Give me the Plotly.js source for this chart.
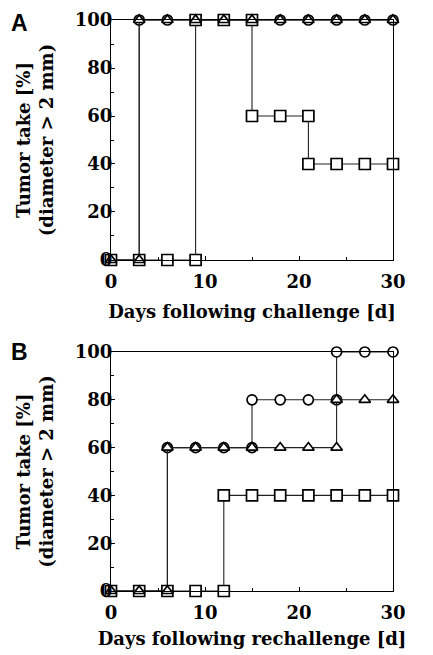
<!DOCTYPE html>
<html>
<head>
<meta charset="utf-8">
<script src="https://cdn.plot.ly/plotly-3.0.1.min.js"></script>
<style>html,body{margin:0;padding:0;background:#fff;}#chart{width:433px;height:655px;}</style>
</head>
<body>
<div id="chart"></div>
<script>
// Panel A: challenge
const daysA_circle = [0, 3, 3, 6, 9, 12, 15, 18, 21, 24, 27, 30];
const takeA_circle = [0, 0, 100, 100, 100, 100, 100, 100, 100, 100, 100, 100];
const daysA_square = [0, 3, 6, 9, 9, 12, 15, 15, 18, 21, 21, 24, 27, 30];
const takeA_square = [0, 0, 0, 0, 100, 100, 100, 60, 60, 60, 40, 40, 40, 40];
const daysA_triangle = [0, 3, 3, 6, 9, 12, 15, 18, 21, 24, 27, 30];
const takeA_triangle = [0, 0, 100, 100, 100, 100, 100, 100, 100, 100, 100, 100];

// Panel B: rechallenge
const daysB_circle = [0, 3, 6, 6, 9, 12, 15, 15, 18, 21, 24, 24, 27, 30];
const takeB_circle = [0, 0, 0, 60, 60, 60, 60, 80, 80, 80, 80, 100, 100, 100];
const daysB_square = [0, 3, 6, 9, 12, 12, 15, 18, 21, 24, 27, 30];
const takeB_square = [0, 0, 0, 0, 0, 40, 40, 40, 40, 40, 40, 40];
const daysB_triangle = [0, 3, 6, 6, 9, 12, 15, 18, 21, 24, 24, 27, 30];
const takeB_triangle = [0, 0, 0, 60, 60, 60, 60, 60, 60, 60, 80, 80, 80];

const xTickVals = [0, 10, 20, 30];
const xTickText = ['0', '10', '20', '30'];
const yTickVals = [0, 20, 40, 60, 80, 100];
const yTickText = ['0', '20', '40', '60', '80', '100'];
const panelLabels = ['A', 'B'];
const xTitles = ['Days following challenge [d]', 'Days following rechallenge [d]'];
const yTitle = 'Tumor take [%]<br>(diameter > 2 mm)';

const serif = {family: 'DejaVu Serif', size: 18, color: '#000', weight: 'bold'};

function tr(x, y, sym, size, xa, ya) {
  return {
    x: x, y: y, xaxis: xa, yaxis: ya, type: 'scatter', mode: 'lines+markers',
    cliponaxis: false, showlegend: false, hoverinfo: 'skip',
    line: {color: '#222', width: 1.1},
    marker: {symbol: sym, size: size, color: '#fff', line: {color: '#000', width: 1.7}}
  };
}

const data = [
  tr(daysA_circle, takeA_circle, 'circle', 10, 'x', 'y'),
  tr(daysA_square, takeA_square, 'square', 11, 'x', 'y'),
  tr(daysA_triangle, takeA_triangle, 'triangle-up', 10, 'x', 'y'),
  tr(daysB_circle, takeB_circle, 'circle', 10, 'x2', 'y2'),
  tr(daysB_square, takeB_square, 'square', 11, 'x2', 'y2'),
  tr(daysB_triangle, takeB_triangle, 'triangle-up', 10, 'x2', 'y2')
];

function xax(anchor, title, so) {
  return {
    anchor: anchor, domain: [0, 1], range: [0, 30], showgrid: false, zeroline: false,
    showline: true, mirror: true, linecolor: '#000', linewidth: 1,
    ticks: 'inside', ticklen: 4, tickcolor: '#000', tickwidth: 1,
    tickvals: xTickVals, ticktext: xTickText, tickfont: serif, ticklabelstandoff: 5,
    minor: {dtick: 5, ticks: 'inside', ticklen: 3, tickcolor: '#000'},
    title: {text: title, font: serif, standoff: so},
    automargin: false
  };
}
function yax(anchor, domain) {
  return {
    anchor: anchor, domain: domain, range: [0, 100], showgrid: false, zeroline: false,
    showline: true, mirror: true, linecolor: '#000', linewidth: 1,
    ticks: 'inside', ticklen: 4, tickcolor: '#000', tickwidth: 1,
    tickvals: yTickVals, ticktext: yTickText, tickfont: serif, ticklabelstandoff: -6,
    minor: {dtick: 10, ticks: 'inside', ticklen: 3, tickcolor: '#000'},
    title: {text: yTitle, font: serif, standoff: 16},
    automargin: false
  };
}

const layout = {
  width: 433, height: 655,
  margin: {l: 111, r: 40, t: 20, b: 64},
  paper_bgcolor: '#fff', plot_bgcolor: '#fff',
  xaxis: xax('y', xTitles[0], 14),
  yaxis: yax('x', [0.5797, 1]),
  xaxis2: xax('y2', xTitles[1], 10),
  yaxis2: yax('x2', [0, 0.4186]),
  annotations: [
    {text: panelLabels[0], xref: 'paper', yref: 'paper', x: -0.323, y: 0.994, xanchor: 'center', yanchor: 'middle', showarrow: false,
     font: {family: 'Liberation Sans', size: 23, color: '#000', weight: 'bold'}},
    {text: panelLabels[1], xref: 'paper', yref: 'paper', x: -0.323, y: 0.4186, xanchor: 'center', yanchor: 'middle', showarrow: false,
     font: {family: 'Liberation Sans', size: 23, color: '#000', weight: 'bold'}}
  ]
};

Plotly.newPlot('chart', data, layout, {staticPlot: true, displayModeBar: false});
</script>
</body>
</html>
